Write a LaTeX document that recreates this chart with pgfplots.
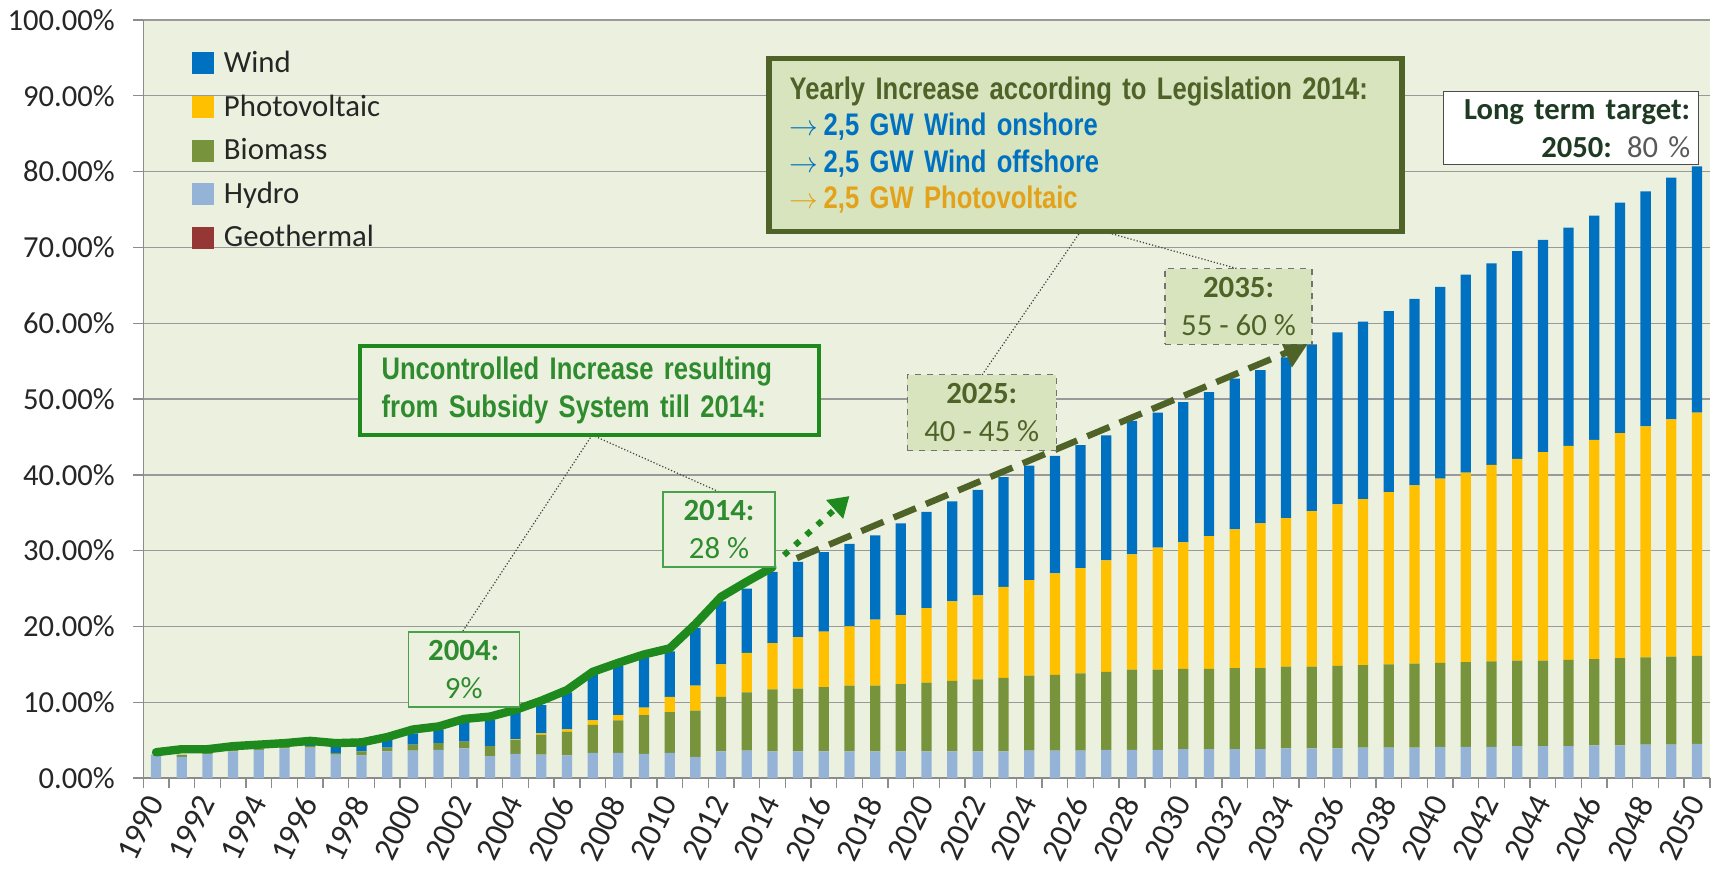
\documentclass[border=0pt]{standalone}
\usepackage{pgfplots}
\pgfplotsset{compat=1.18}
\usepackage{pgfplotstable}
\usepackage{fontspec}
\setmainfont{Carlito}
\newfontfamily\narrow[FakeStretch=0.82]{Liberation Sans}
\usetikzlibrary{arrows.meta}

\definecolor{windc}{HTML}{0070C0}
\definecolor{pvc}{HTML}{FFC000}
\definecolor{bioc}{HTML}{77933C}
\definecolor{hydroc}{HTML}{95B3D7}
\definecolor{geoc}{HTML}{953735}
\definecolor{bgc}{HTML}{EBF1DE}
\definecolor{boxc}{HTML}{D7E4BD}
\definecolor{olived}{HTML}{4F6228}
\definecolor{gline}{HTML}{1E8A1E}
\definecolor{gtext}{HTML}{2E8B2E}
\definecolor{pvtext}{HTML}{E3A21A}
\definecolor{ltgreen}{HTML}{1F3A22}

% shares of gross electricity consumption (%), one row per year
\pgfplotstableread{
year hydro bio pv wind geo
1990 3.0 0.1 0 0 0
1991 2.8 0.3 0 0 0
1992 3.2 0.2 0 0 0
1993 3.5 0.2 0 0 0
1994 3.7 0.2 0 0 0
1995 3.9 0.2 0 0.1 0
1996 4.0 0.2 0 0.3 0
1997 3.1 0.2 0 0.9 0
1998 3.0 0.5 0 0.9 0
1999 3.5 0.5 0 1.0 0
2000 3.6 0.8 0 1.5 0
2001 3.7 0.9 0 1.8 0
2002 3.9 0.9 0 2.7 0
2003 2.9 1.3 0 3.5 0
2004 3.2 1.8 0.1 3.7 0
2005 3.1 2.6 0.2 3.7 0
2006 3.0 3.1 0.3 4.9 0
2007 3.3 3.7 0.6 6.1 0
2008 3.3 4.3 0.7 6.5 0
2009 3.2 5.1 1.0 6.6 0
2010 3.3 5.4 2.0 6.0 0
2011 2.8 6.1 3.3 7.6 0
2012 3.5 7.2 4.3 8.3 0
2013 3.6 7.7 5.2 8.5 0
2014 3.5 8.2 6.1 9.4 0
2015 3.5 8.3 6.8 9.9 0
2016 3.5 8.5 7.3 10.5 0
2017 3.5 8.7 7.8 10.9 0
2018 3.5 8.7 8.7 11.1 0
2019 3.5 8.9 9.1 12.1 0
2020 3.5 9.1 9.8 12.7 0
2021 3.5 9.3 10.5 13.2 0
2022 3.5 9.5 11.1 13.9 0
2023 3.5 9.7 12.0 14.5 0
2024 3.6 9.9 12.6 15.1 0
2025 3.6 10.0 13.4 15.5 0
2026 3.6 10.2 13.9 16.2 0
2027 3.7 10.3 14.7 16.5 0
2028 3.7 10.6 15.2 17.6 0
2029 3.7 10.6 16.1 17.8 0
2030 3.8 10.6 16.7 18.5 0
2031 3.8 10.6 17.5 19.0 0
2032 3.8 10.7 18.3 19.9 0
2033 3.8 10.7 19.1 20.2 0
2034 3.9 10.8 19.6 21.2 0
2035 3.9 10.8 20.5 22.0 0
2036 3.9 10.9 21.3 22.7 0
2037 4.0 10.9 21.9 23.4 0
2038 4.0 11.0 22.7 23.9 0
2039 4.0 11.1 23.5 24.6 0
2040 4.1 11.1 24.3 25.3 0
2041 4.1 11.2 25.0 26.1 0
2042 4.1 11.3 25.9 26.6 0
2043 4.2 11.3 26.6 27.4 0
2044 4.2 11.3 27.5 28.0 0
2045 4.2 11.4 28.2 28.8 0
2046 4.3 11.4 28.9 29.6 0
2047 4.3 11.5 29.7 30.4 0
2048 4.4 11.5 30.5 31.0 0
2049 4.4 11.6 31.3 31.9 0
2050 4.5 11.6 32.1 32.5 0
}\shares

% actual total share up to 2014 (green line)
\pgfplotstableread{
year total
1990 3.4
1991 3.8
1992 3.8
1993 4.2
1994 4.4
1995 4.6
1996 4.9
1997 4.6
1998 4.7
1999 5.4
2000 6.4
2001 6.8
2002 7.8
2003 8.1
2004 9.0
2005 10.2
2006 11.6
2007 14.0
2008 15.2
2009 16.3
2010 17.1
2011 20.3
2012 23.9
2013 25.9
2014 27.8
}\actual

\pgfplotsset{
  base/.style={scale only axis, width=783.3pt, height=379pt,
    xmin=1989.5, xmax=2050.5, ymin=0, ymax=100},
  sq/.style={legend image code/.code={\fill[#1] (0pt,-5.25pt) rectangle (10.5pt,5.25pt);}},
}
\newcommand{\arr}{$\rightarrow$\,}

\begin{document}
\begin{tikzpicture}
\begin{axis}[base, name=main,
    ybar stacked, bar width=0.4,
    axis background/.style={fill=bgc},
    axis lines*=left,
    axis line style={draw=black!45, line width=0.7pt},
    ymajorgrids, grid style={draw=black!40, line width=0.7pt},
    tick align=outside,
    ytick={0,10,...,100}, ytick pos=left,
    major tick length=5pt,
    ytick style={draw=black!45, line width=0.7pt},
    xtick={1990,1992,...,2050}, xtick pos=bottom,
    major x tick style={draw=none},
    minor xtick={1989.5,1990.5,...,2050.5},
    minor x tick style={draw=black!45, line width=0.7pt},
    minor tick length=5pt,
    yticklabel={\pgfmathprintnumber[fixed,fixed zerofill,precision=2,assume math mode=true]{\tick}\%},
    xticklabel={\pgfmathprintnumber[fixed,precision=0,1000 sep={},assume math mode=true]{\tick}},
    yticklabel style={font=\fontsize{15.3}{18}\selectfont, text=black!85, inner sep=0pt, xshift=-9pt},
    xticklabel style={font=\fontsize{16.5}{18}\selectfont, text=black!85,
      yshift=-4pt, rotate=64, anchor=east, inner sep=1pt},
    legend style={at={(0.031,0.962)}, anchor=north west, draw=none, fill=none,
      font=\fontsize{15.4}{18}\selectfont, text=black!85, row sep=7.6pt, inner sep=0pt,
      nodes={inner sep=1pt},
      /tikz/every odd column/.append style={column sep=4pt}},
    legend cell align=left,
  ]
\addplot[fill=hydroc, draw=none, forget plot] table[x=year, y=hydro]{\shares};
\addplot[fill=bioc, draw=none, forget plot] table[x=year, y=bio]{\shares};
\addplot[fill=pvc, draw=none, forget plot] table[x=year, y=pv]{\shares};
\addplot[fill=windc, draw=none, forget plot] table[x=year, y=wind]{\shares};
\addplot[fill=geoc, draw=none, forget plot] table[x=year, y=geo]{\shares};
\addlegendimage{sq=windc}\addlegendentry{Wind}
\addlegendimage{sq=pvc}\addlegendentry{Photovoltaic}
\addlegendimage{sq=bioc}\addlegendentry{Biomass}
\addlegendimage{sq=hydroc}\addlegendentry{Hydro}
\addlegendimage{sq=geoc}\addlegendentry{Geothermal}
\end{axis}

\begin{axis}[base, hide axis, clip=false]
\addplot[gline, line width=4.2pt, line join=round, line cap=round, mark=none]
  table[x=year, y=total]{\actual};
% trend arrows
\draw[gline, line width=3pt, dash pattern=on 3pt off 4.5pt,
  -{Triangle[length=10pt, width=12pt]}]
  (axis cs:2014.45,29.4) -- (axis cs:2017.0,37.2);
\draw[olived, line width=3.2pt, dash pattern=on 12pt off 5.5pt,
  -{Triangle[length=12pt, width=15pt]}]
  (axis cs:2014.95,29.0) -- (axis cs:2034.85,57.3);
% leader lines
\begin{scope}[densely dotted, black!75, line width=0.6pt]
\draw (axis cs:2006.98,45.25) -- (axis cs:2001.95,19.4);
\draw (axis cs:2006.98,45.25) -- (axis cs:2011.96,37.7);
\draw (axis cs:2026.14,72.8) -- (axis cs:2022.17,53.2);
\draw (axis cs:2026.14,72.8) -- (axis cs:2032.1,67.2);
\end{scope}
% boxes
\node[draw=gline, line width=2pt, fill=bgc, minimum width=229.5pt, minimum height=44.5pt,
  inner sep=0pt, text width=208pt, align=left, text=gtext,
  font=\narrow\bfseries\fontsize{15.6}{19}\selectfont]
  at (axis cs:2006.88,51.1) {Uncontrolled Increase resulting\\from Subsidy System till 2014:};
\node[draw=gline!80, line width=0.7pt, fill=bgc, minimum width=55.5pt, minimum height=37.5pt,
  inner sep=0pt, align=center, text=gtext, font=\fontsize{15.4}{19}\selectfont]
  at (axis cs:2001.98,14.3) {\textbf{2004:}\\9\%};
\node[draw=gline!80, line width=0.7pt, fill=bgc, minimum width=56pt, minimum height=37.5pt,
  inner sep=0pt, align=center, text=gtext, font=\fontsize{15.4}{19}\selectfont]
  at (axis cs:2011.92,32.8) {\textbf{2014:}\\28 \%};
\node[draw=black!55, dashed, line width=0.6pt, fill=boxc, minimum width=74.5pt, minimum height=38pt,
  inner sep=0pt, align=center, text=olived, font=\fontsize{15.4}{19}\selectfont]
  at (axis cs:2022.15,48.2) {\textbf{2025:}\\40 - 45 \%};
\node[draw=black!55, dashed, line width=0.6pt, fill=boxc, minimum width=73.5pt, minimum height=37.7pt,
  inner sep=0pt, align=center, text=olived, font=\fontsize{15.4}{19}\selectfont]
  at (axis cs:2032.15,62.2) {\textbf{2035:}\\55 - 60 \%};
\node[draw=olived, line width=2.8pt, fill=boxc, minimum width=316.5pt, minimum height=86.4pt,
  inner sep=0pt, text width=296pt, align=left,
  font=\narrow\bfseries\fontsize{15.6}{18.2}\selectfont]
  at (axis cs:2026.2,83.5)
  {\textcolor{olived}{Yearly Increase according to Legislation 2014:}\\
   \textcolor{windc}{\arr 2,5 GW Wind onshore}\\
   \textcolor{windc}{\arr 2,5 GW Wind offshore}\\
   \textcolor{pvtext}{\arr 2,5 GW Photovoltaic}};
\node[draw=black!70, line width=0.6pt, fill=white, minimum width=127.5pt, minimum height=36.5pt,
  inner sep=0pt, text width=119.5pt, align=right, text=ltgreen,
  font=\fontsize{15.3}{19}\selectfont]
  at (axis cs:2045.08,85.7) {\textbf{Long term target:}\\\textbf{2050:} \textcolor{black!65}{80 \%}};
\end{axis}
\pgfresetboundingbox
\path[use as bounding box] ([xshift=-71.6pt,yshift=-45pt]main.south west)
  rectangle ([xshift=2.1pt,yshift=10pt]main.north east);
\end{tikzpicture}
\end{document}
